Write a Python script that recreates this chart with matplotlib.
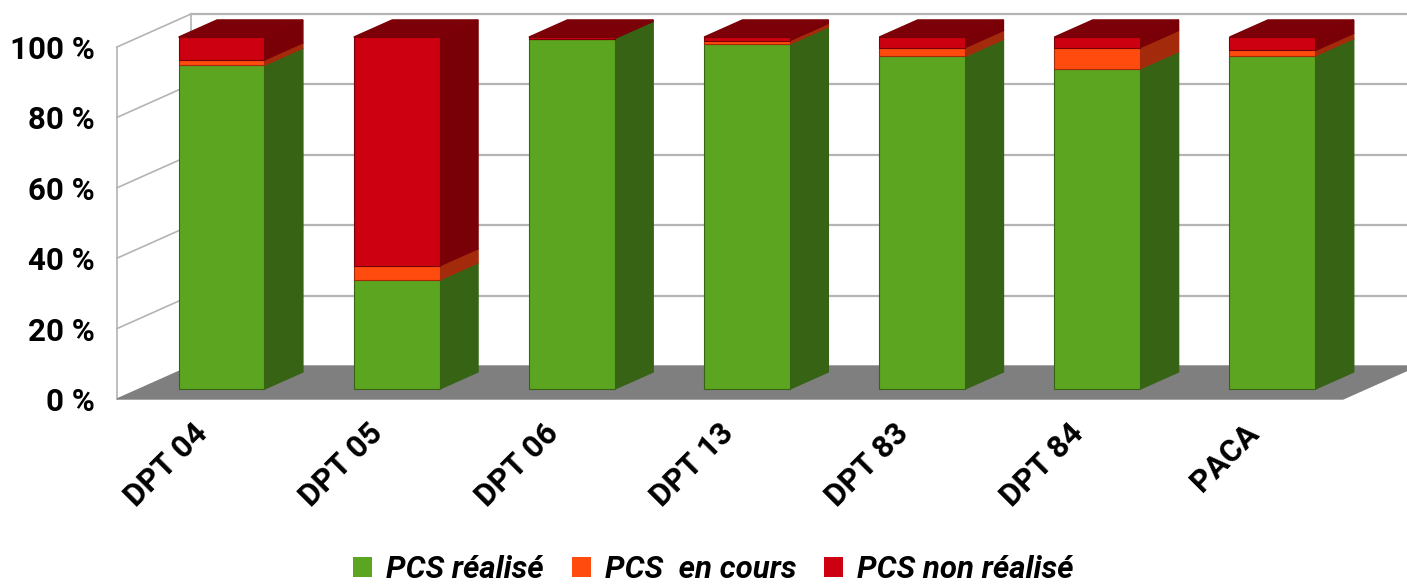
import numpy as np
import matplotlib
matplotlib.use("Agg")
import matplotlib.pyplot as plt
from matplotlib.patches import Patch
from matplotlib.font_manager import FontProperties
from matplotlib.transforms import ScaledTranslation

# Data (percent of communes)
categories = ["DPT 04", "DPT 05", "DPT 06", "DPT 13", "DPT 83", "DPT 84", "PACA"]
pcs_realise = [92.0, 31.0, 99.6, 98.0, 94.5, 91.0, 94.7]
pcs_en_cours = [1.5, 4.0, 0.0, 1.0, 2.5, 6.0, 1.5]
pcs_non_realise = [6.5, 65.0, 0.4, 1.0, 3.0, 3.0, 3.8]
series_names = ["PCS réalisé", "PCS  en cours", "PCS non réalisé"]
y_ticks = [0, 20, 40, 60, 80, 100]

# colours: front face, side face
front_colors = ["#5ca520", "#ff4b0e", "#cc0010"]
side_colors = ["#366314", "#a32a0b", "#7a0008"]
top_color = "#7b0007"

# pseudo 3D depth (x in category units, y in percent)
DX = 0.4225
DY = 9.375
z0, z1 = 0.30, 0.82  # front / back of the bars inside the floor depth
bar_w = 0.49
shift = -0.03  # bars sit a touch left of the slot centre

fig = plt.figure(figsize=(14.07, 5.86), dpi=100)
ax = fig.add_axes([117 / 1407, 187 / 586, 1226 / 1407, 352 / 586])
ax.set_xlim(-0.5, 6.5)
ax.set_ylim(0, 100)
for s in ax.spines.values():
    s.set_visible(False)

grid_c = "#b4b4b4"
x0, x1 = -0.5, 6.5

# floor
ax.fill([x0, x1, x1 + DX, x0 + DX], [0, 0, DY, DY], color="#7f7f7f", zorder=1, clip_on=False)
# back wall gridlines
for v in y_ticks[1:]:
    ax.plot([x0 + DX, x1 + DX], [v + DY, v + DY], color=grid_c, lw=1.6, zorder=0.5, clip_on=False)
# left wall
ax.plot([x0, x0], [0, 100], color=grid_c, lw=1.2, zorder=0.5, clip_on=False)
ax.plot([x0 + DX, x0 + DX], [DY, 100 + DY], color=grid_c, lw=1.2, zorder=0.5, clip_on=False)
for v in y_ticks[1:]:
    ax.plot([x0, x0 + DX], [v, v + DY], color=grid_c, lw=1.2, zorder=0.5, clip_on=False)

# stacked bars
x = np.arange(len(categories)) + shift
series = [np.array(pcs_realise), np.array(pcs_en_cours), np.array(pcs_non_realise)]
bottom = np.zeros(len(categories))
for k, vals in enumerate(series):
    ax.bar(x + z0 * DX, vals, width=bar_w, bottom=bottom + z0 * DY,
           color=front_colors[k], edgecolor=side_colors[k], linewidth=0.8,
           zorder=3, clip_on=False)
    for i in range(len(categories)):
        if vals[i] <= 0:
            continue
        xr = x[i] + bar_w / 2
        b, t = bottom[i], bottom[i] + vals[i]
        ax.fill([xr + z0 * DX, xr + z1 * DX, xr + z1 * DX, xr + z0 * DX],
                [b + z0 * DY, b + z1 * DY, t + z1 * DY, t + z0 * DY],
                color=side_colors[k], zorder=2.5, clip_on=False)
    bottom = bottom + vals

# top faces
for i in range(len(categories)):
    xl, xr = x[i] - bar_w / 2, x[i] + bar_w / 2
    t = bottom[i]
    ax.fill([xl + z0 * DX, xr + z0 * DX, xr + z1 * DX, xl + z1 * DX],
            [t + z0 * DY, t + z0 * DY, t + z1 * DY, t + z1 * DY],
            color=top_color, zorder=3.5, clip_on=False)

# axis labels
tick_font = FontProperties(family="Roboto", weight="bold", size=22.5)
ax.set_yticks(y_ticks)
ax.set_yticklabels([f"{v} %" for v in y_ticks], fontproperties=tick_font)
ax.tick_params(axis="y", length=0, pad=16)
ax.set_xticks([])

off = ScaledTranslation(-12 / 100, -19 / 100, fig.dpi_scale_trans)
for i, lab in enumerate(categories):
    ax.text(i, 0, lab, rotation=45, ha="right", va="top", rotation_mode="anchor",
            fontproperties=tick_font, transform=ax.transData + off)

handles = [Patch(facecolor=c) for c in front_colors]
fig.legend(handles, series_names, loc="lower center", bbox_to_anchor=(0.507, -0.045),
           ncol=3, frameon=False,
           prop=FontProperties(family="Roboto", weight="bold", style="italic", size=22.5),
           handlelength=0.6, handleheight=0.6, handletextpad=0.45, columnspacing=0.9)

fig.savefig("out.png", dpi=100)
